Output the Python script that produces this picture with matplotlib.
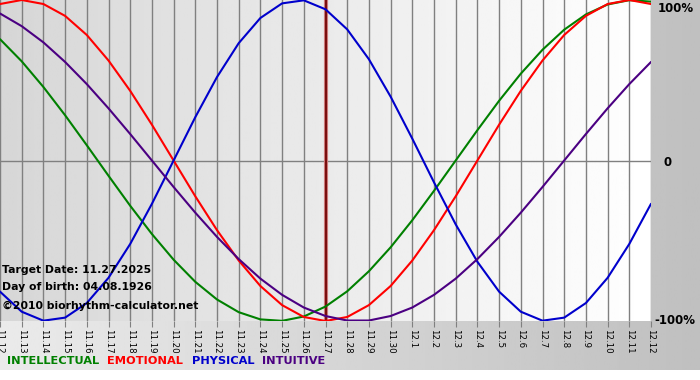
import numpy as np
import matplotlib
matplotlib.use("Agg")
import matplotlib.pyplot as plt

# day labels, 11.12 .. 12.12
dates = ["11.%d" % d for d in range(12, 31)] + ["12.%d" % d for d in range(1, 13)]

# values, one per day (-1 .. 1)
physical = [-0.817, -0.942, -0.998, -0.979, -0.888, -0.731, -0.520, -0.270, 0.0,
            0.270, 0.520, 0.731, 0.888, 0.979, 0.998, 0.942, 0.817, 0.631, 0.398,
            0.136, -0.136, -0.398, -0.631, -0.817, -0.942, -0.998, -0.979, -0.888,
            -0.731, -0.520, -0.270]
emotional = [0.975, 1.0, 0.975, 0.901, 0.782, 0.623, 0.434, 0.223, 0.0, -0.223,
             -0.434, -0.623, -0.782, -0.901, -0.975, -1.0, -0.975, -0.901, -0.782,
             -0.623, -0.434, -0.223, 0.0, 0.223, 0.434, 0.623, 0.782, 0.901, 0.975,
             1.0, 0.975]
intellectual = [0.756, 0.618, 0.458, 0.282, 0.095, -0.095, -0.282, -0.458, -0.618,
                -0.756, -0.866, -0.945, -0.990, -0.999, -0.972, -0.910, -0.815,
                -0.690, -0.541, -0.372, -0.189, 0.0, 0.189, 0.372, 0.541, 0.690,
                0.815, 0.910, 0.972, 0.999, 0.990]
intuitive = [0.916, 0.837, 0.736, 0.614, 0.476, 0.325, 0.165, 0.0, -0.165, -0.325,
             -0.476, -0.614, -0.736, -0.837, -0.916, -0.969, -0.997, -0.997, -0.969,
             -0.916, -0.837, -0.736, -0.614, -0.476, -0.325, -0.165, 0.0, 0.165,
             0.325, 0.476, 0.614]
target_idx = dates.index("11.27")

GREEN, RED, BLUE, PURPLE = "#008000", "#ff0000", "#0000cc", "#4b0082"

W, H = 700, 380
fig = plt.figure(figsize=(W / 100, H / 100), dpi=100, facecolor="white")

# grey gradient behind everything (bottom strip + right panel)
bg = fig.add_axes([0, 10 / H, 1, 370 / H], zorder=-2)
bg.imshow(np.linspace(0.92, 0.75, 256)[None, :], cmap="gray", vmin=0, vmax=1,
          aspect="auto", extent=[0, 1, 0, 1])
bg.axis("off")

ax = fig.add_axes([0, 59 / H, 651 / W, 321 / H])
x = np.arange(len(dates))
ax.set_xlim(0, len(dates) - 1)
ax.set_ylim(-1.0, 1.0)

# plot area gradient
ax.imshow(np.linspace(0.84, 1.0, 256)[None, :], cmap="gray", vmin=0, vmax=1,
          aspect="auto", extent=[0, len(dates) - 1, -1, 1], zorder=0)

for xi in x:
    ax.axvline(xi, color="#808080", lw=1, zorder=1)
ax.axhline(0, color="#808080", lw=1, zorder=1)

kw = dict(lw=1.5, zorder=3, solid_joinstyle="round", solid_capstyle="round")
ax.plot(x, intellectual, color=GREEN, **kw)
ax.plot(x, emotional, color=RED, **kw)
ax.plot(x, physical, color=BLUE, **kw)
ax.plot(x, intuitive, color=PURPLE, **kw)

ax.axvline(target_idx, color="#d08080", lw=3, zorder=2)
ax.axvline(target_idx, color="#7a1010", lw=1.5, zorder=2)

for s in ax.spines.values():
    s.set_visible(False)

ax.set_xticks(x)
ax.set_xticklabels(dates, rotation=-90, fontsize=6.2)
ax.tick_params(axis="x", length=4, color="#808080", pad=2)
ax.set_yticks([])

# right side labels
ax.text(1 + 7 / 651, 1 - 2 / 321, "100%", transform=ax.transAxes, ha="left",
        va="top", fontsize=8.5, fontweight="bold")
ax.text(1 + 12 / 651, 0.5 - 2 / 321, "0", transform=ax.transAxes, ha="left",
        va="center", fontsize=8.5, fontweight="bold")
ax.text(1 + 3 / 651, 0, "-100%", transform=ax.transAxes, ha="left",
        va="center", fontsize=8.5, fontweight="bold")

# info text inside the plot
info = ["Target Date: 11.27.2025", "Day of birth: 04.08.1926",
        "\u00a92010 biorhythm-calculator.net"]
for txt, ypx in zip(info, [270, 287, 306]):
    ax.text(2 / 651, 1 - ypx / 321, txt, transform=ax.transAxes, ha="left",
            va="center", fontsize=7.8, fontweight="bold", zorder=5)

# legend row
for name, col, xpx in [("INTELLECTUAL", GREEN, 7), ("EMOTIONAL", RED, 107),
                       ("PHYSICAL", BLUE, 192), ("INTUITIVE", PURPLE, 262)]:
    fig.text(xpx / W, 1 - 361 / H, name, color=col, ha="left", va="center",
             fontsize=8.2, fontweight="bold")

fig.savefig("out.png", dpi=100, facecolor=fig.get_facecolor())
